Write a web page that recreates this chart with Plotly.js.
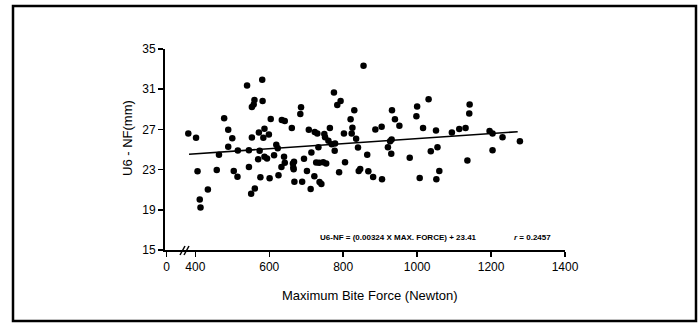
<!DOCTYPE html>
<html>
<head>
<meta charset="utf-8">
<script src="https://cdn.plot.ly/plotly-3.0.1.min.js"></script>
<style>
html,body{margin:0;padding:0;background:#fff;}
#chart{width:698px;height:324px;}
</style>
</head>
<body>
<div id="chart"></div>
<script>
// Maximum bite force (Newton) for each subject
const biteForce = [381,402,406,412,414,434,458,464,478,489,489,500,504,514,515,540,545,545,551,553,
  553,558,560,561,572,574,570,576,581,582,584,587,587,594,599,601,604,613,619,623,
  625,633,634,642,640,642,661,664,665,666,667,668,684,686,689,694,702,707,712,714,
  722,723,727,730,733,735,736,741,746,749,751,754,760,764,769,775,777,778,784,789,
  793,802,805,820,823,825,830,835,840,842,846,855,865,868,881,887,904,905,921,927,
  931,932,930,940,952,980,1000,998,1007,1016,1031,1037,1051,1052,1055,1060,1094,1114,1131,1136,
  1141,1142,1196,1204,1204,1231,1278];
// U6 - NF distance (mm) for each subject
const u6nf = [26.6,26.17,22.83,20.03,19.23,21.03,22.97,24.47,28.1,26.97,25.27,26.13,22.87,22.3,24.9,31.37,24.93,23.27,20.6,26.2,
  29.23,29.47,29.93,21.13,26.7,24.87,24.03,22.23,31.93,29.83,26.17,27.07,24.27,24.1,26.5,22.13,28.03,24.43,25.47,25.13,
  22.43,23.27,27.93,27.83,24.27,23.67,27.13,23.6,23.2,23.03,23.77,21.8,28.53,29.2,21.8,24.07,22.87,26.97,21.07,24.7,
  22.33,26.73,23.7,26.6,25.23,23.67,21.77,21.57,23.73,26.53,26.23,23.6,25.87,27.13,25.53,30.67,24.87,25.6,29.43,22.73,
  29.83,26.6,23.73,28.0,26.6,27.17,28.9,26.07,25.2,22.87,23.07,33.33,24.47,22.83,22.27,27.0,27.27,22.03,25.23,25.83,
  26.0,28.9,24.57,28.0,27.37,24.17,29.27,28.3,22.17,27.13,30.0,24.83,26.9,22.03,25.23,22.87,26.7,27.03,27.13,23.9,
  28.57,29.47,26.83,26.6,24.93,26.23,25.83];
// Fitted regression line endpoints as drawn
const fitX = [383, 1272];
const fitY = [24.53, 26.77];
// Axis ticks (the x axis is broken between 0 and 400)
const xTickVals = [322, 400, 600, 800, 1000, 1200, 1400];
const xTickText = ["0", "400", "600", "800", "1000", "1200", "1400"];
const yTickVals = [15, 19, 23, 27, 31, 35];

const font = {family: "Liberation Sans, Arial, sans-serif", color: "#000"};

const traces = [
  {x: biteForce, y: u6nf, type: "scatter", mode: "markers",
   marker: {color: "#000", size: 6.5}, cliponaxis: false, hoverinfo: "x+y"},
  {x: fitX, y: fitY, type: "scatter", mode: "lines",
   line: {color: "#000", width: 1.6}, hoverinfo: "skip"}
];

// helpers to convert pixel positions to paper coordinates
const L = 165, W = 400, T = 49, H = 201;
const px = v => (v - L) / W;
const py = v => (T + H - v) / H;

const layout = {
  width: 698, height: 324,
  margin: {l: L, r: 698 - L - W, t: T, b: 324 - T - H},
  paper_bgcolor: "#fff", plot_bgcolor: "#fff",
  showlegend: false,
  font: Object.assign({size: 12}, font),
  xaxis: {range: [318, 1400], tickvals: xTickVals, ticktext: xTickText,
    showgrid: false, zeroline: false, showline: true, linecolor: "#000", linewidth: 2,
    ticks: "outside", ticklen: 5, tickwidth: 1.5, tickcolor: "#000",
    tickfont: Object.assign({size: 12}, font)},
  yaxis: {range: [15, 35], tickvals: yTickVals,
    showgrid: false, zeroline: false, showline: true, linecolor: "#000", linewidth: 2,
    ticks: "outside", ticklen: 5, tickwidth: 1.5, tickcolor: "#000",
    tickfont: Object.assign({size: 12}, font)},
  annotations: [
    {text: "U6 - NF(mm)", xref: "paper", yref: "paper", x: px(127), y: py(138),
     xanchor: "center", yanchor: "middle",
     textangle: -90, showarrow: false, font: Object.assign({size: 13}, font)},
    {text: "Maximum Bite Force (Newton)", xref: "paper", yref: "paper", x: px(370), y: py(295),
     xanchor: "center", yanchor: "middle",
     showarrow: false, font: Object.assign({size: 13}, font)},
    {text: "<b>U6-NF = (0.00324 X MAX. FORCE) + 23.41</b>", xref: "paper", yref: "paper",
     x: px(398), y: py(237), xanchor: "center", yanchor: "middle",
     showarrow: false, font: Object.assign({size: 8}, font)},
    {text: "<b><i>r</i> = 0.2457</b>", xref: "paper", yref: "paper",
     x: px(532), y: py(237), xanchor: "center", yanchor: "middle",
     showarrow: false, font: Object.assign({size: 8}, font)}
  ],
  shapes: [
    {type: "rect", xref: "paper", yref: "paper", x0: px(13), x1: px(696), y0: py(321), y1: py(6),
     line: {color: "#000", width: 2.5}},
    {type: "line", xref: "paper", yref: "paper", x0: px(180), y0: py(255), x1: px(185), y1: py(246),
     line: {color: "#000", width: 1.5}},
    {type: "line", xref: "paper", yref: "paper", x0: px(184), y0: py(255), x1: px(189), y1: py(246),
     line: {color: "#000", width: 1.5}}
  ]
};

Plotly.newPlot("chart", traces, layout, {displayModeBar: false, staticPlot: true});
</script>
</body>
</html>
